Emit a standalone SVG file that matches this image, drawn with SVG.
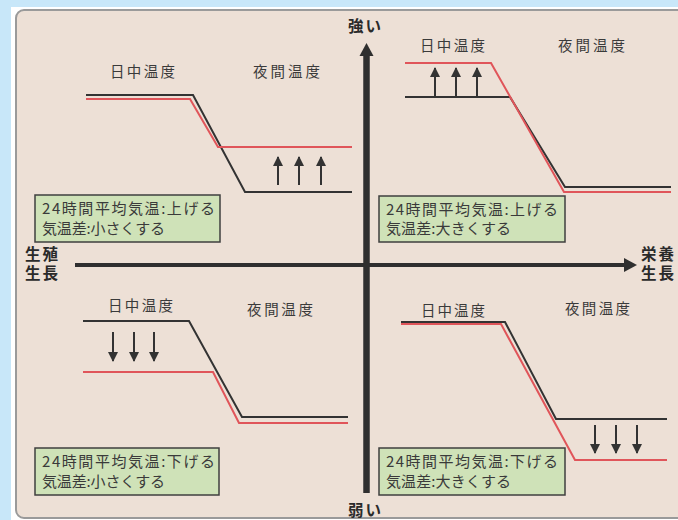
<svg xmlns="http://www.w3.org/2000/svg" width="678" height="520" viewBox="0 0 678 520">
<defs>
<style>
.lbl{font-family:"Noto Sans CJK JP","Noto Sans CJK SC",sans-serif;font-size:14.5px;fill:#3a3a3a}
.bt{font-family:"Noto Sans CJK JP","Noto Sans CJK SC",sans-serif;font-size:15px;fill:#3a3a3a}
.ax{font-family:"Noto Sans CJK JP","Noto Sans CJK SC",sans-serif;font-size:15.5px;font-weight:bold;letter-spacing:2px;fill:#2a2a2a}
.bx{fill:#cfe2b8;stroke:#3f3f3f;stroke-width:1.5}
.blk{fill:none;stroke:#333;stroke-width:2}
.red{fill:none;stroke:#e0555a;stroke-width:2}
.arr{stroke:#333;stroke-width:2;fill:none}
</style>
<marker id="ah" viewBox="0 0 10 10" refX="9" refY="5" markerWidth="5" markerHeight="5" markerUnits="strokeWidth" orient="auto">
<path d="M0,0 L10,5 L0,10 z" fill="#333"/>
</marker>
</defs>
<rect x="0" y="0" width="678" height="520" fill="#c8e7f9"/>
<rect x="11" y="7" width="680" height="520" fill="#ffffff"/>
<rect x="16" y="10" width="690" height="508" rx="8" ry="8" fill="#ede0d6" stroke="#9a9a9a" stroke-width="2"/>

<g id="connectors">
<line x1="75" y1="265" x2="626" y2="265" stroke="#2f2f2f" stroke-width="4"/>
<polygon points="624,258 637,265 624,272" fill="#2f2f2f"/>
<line x1="366.5" y1="493" x2="366.5" y2="54" stroke="#2f2f2f" stroke-width="6.5"/>
<polygon points="359.5,56 366.5,43 373.5,56" fill="#2f2f2f"/>
</g>

<g id="axis-labels">
<text class="ax" x="348" y="32">強い</text>
<text class="ax" x="348" y="516">弱い</text>
<text class="ax"><tspan x="25" y="260">生殖</tspan><tspan x="25" y="279">生長</tspan></text>
<text class="ax"><tspan x="641" y="260">栄養</tspan><tspan x="641" y="279">生長</tspan></text>
</g>

<g id="q-top-left">
<text class="lbl" x="110" y="77" textLength="65" lengthAdjust="spacing">日中温度</text>
<text class="lbl" x="253" y="77" textLength="67" lengthAdjust="spacing">夜間温度</text>
<polyline class="blk" points="86,95 193,95 245,192 352,192"/>
<polyline class="red" points="86,99 190,99 218,147 352,147"/>
<line class="arr" x1="278" y1="185" x2="278" y2="157" marker-end="url(#ah)"/>
<line class="arr" x1="299" y1="185" x2="299" y2="157" marker-end="url(#ah)"/>
<line class="arr" x1="321" y1="185" x2="321" y2="157" marker-end="url(#ah)"/>
<rect class="bx" x="35" y="195" width="185" height="47"/>
<text class="bt" x="42" y="214" textLength="173" lengthAdjust="spacing">24時間平均気温:上げる</text>
<text class="bt" x="42" y="234" textLength="123" lengthAdjust="spacing">気温差:小さくする</text>
</g>

<g id="q-top-right">
<text class="lbl" x="420" y="51" textLength="65" lengthAdjust="spacing">日中温度</text>
<text class="lbl" x="558" y="51" textLength="67" lengthAdjust="spacing">夜間温度</text>
<polyline class="blk" points="405,97 510,97 565,187 671,187"/>
<polyline class="red" points="405,63 491,63 564,192 671,192"/>
<line class="arr" x1="435" y1="97" x2="435" y2="68" marker-end="url(#ah)"/>
<line class="arr" x1="456" y1="97" x2="456" y2="68" marker-end="url(#ah)"/>
<line class="arr" x1="477" y1="97" x2="477" y2="68" marker-end="url(#ah)"/>
<rect class="bx" x="379" y="196" width="186" height="46"/>
<text class="bt" x="386" y="215" textLength="172" lengthAdjust="spacing">24時間平均気温:上げる</text>
<text class="bt" x="386" y="234" textLength="125" lengthAdjust="spacing">気温差:大きくする</text>
</g>

<g id="q-bottom-left">
<text class="lbl" x="108" y="311" textLength="65" lengthAdjust="spacing">日中温度</text>
<text class="lbl" x="247" y="315" textLength="66" lengthAdjust="spacing">夜間温度</text>
<polyline class="blk" points="83,321 189,321 242,417 348,417"/>
<polyline class="red" points="83,372 213,372 239,423 348,423"/>
<line class="arr" x1="113" y1="332" x2="113" y2="361" marker-end="url(#ah)"/>
<line class="arr" x1="134" y1="332" x2="134" y2="361" marker-end="url(#ah)"/>
<line class="arr" x1="154" y1="332" x2="154" y2="361" marker-end="url(#ah)"/>
<rect class="bx" x="35" y="448" width="184" height="47"/>
<text class="bt" x="42" y="467" textLength="173" lengthAdjust="spacing">24時間平均気温:下げる</text>
<text class="bt" x="42" y="487" textLength="123" lengthAdjust="spacing">気温差:小さくする</text>
</g>

<g id="q-bottom-right">
<text class="lbl" x="421" y="316" textLength="64" lengthAdjust="spacing">日中温度</text>
<text class="lbl" x="565" y="314" textLength="65" lengthAdjust="spacing">夜間温度</text>
<polyline class="blk" points="401,322 505,322 556,419 667,419"/>
<polyline class="red" points="401,324 501,324 575,460 667,460"/>
<line class="arr" x1="595" y1="425" x2="595" y2="453" marker-end="url(#ah)"/>
<line class="arr" x1="616" y1="425" x2="616" y2="453" marker-end="url(#ah)"/>
<line class="arr" x1="637" y1="425" x2="637" y2="453" marker-end="url(#ah)"/>
<rect class="bx" x="379" y="448" width="186" height="47"/>
<text class="bt" x="386" y="467" textLength="172" lengthAdjust="spacing">24時間平均気温:下げる</text>
<text class="bt" x="386" y="487" textLength="125" lengthAdjust="spacing">気温差:大きくする</text>
</g>
</svg>
